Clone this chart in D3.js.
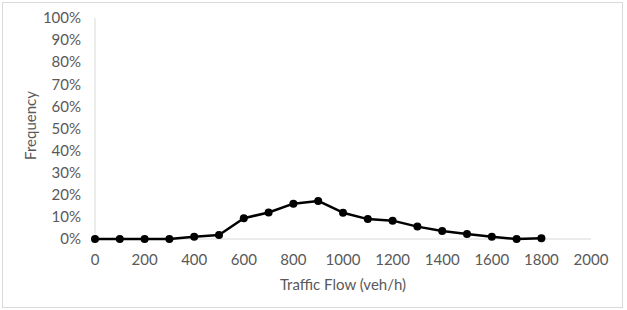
<!DOCTYPE html>
<html>
<head>
<meta charset="utf-8">
<script src="https://cdn.jsdelivr.net/npm/d3@7"></script>
<style>
  body { margin: 0; background: #fff; }
  text { font-family: Lato, "Open Sans", sans-serif; fill: #595959; }
</style>
</head>
<body>
<div class="container"></div>
<script>
const width = 627;
const height = 310;

const flow = [0, 100, 200, 300, 400, 500, 600, 700, 800, 900, 1000, 1100, 1200, 1300, 1400, 1500, 1600, 1700, 1800];
const freq = [0, 0, 0, 0, 1.0, 1.8, 9.4, 12.0, 16.0, 17.2, 11.9, 9.0, 8.3, 5.6, 3.6, 2.3, 1.0, 0, 0.3];
const xTicks = [0, 200, 400, 600, 800, 1000, 1200, 1400, 1600, 1800, 2000];
const yTicks = [0, 10, 20, 30, 40, 50, 60, 70, 80, 90, 100];

const margin = {left: 95, right: 36, top: 18, bottom: 71};
const fontSize = "15px";

const svg = d3.select(".container").append("svg").attr("width", width).attr("height", height);

svg.append("rect")
    .attr("x", 2.5).attr("y", 2.5)
    .attr("width", 620).attr("height", 305)
    .attr("fill", "none").attr("stroke", "#d9d9d9");

const x = d3.scaleLinear().domain([0, 2000]).range([margin.left, width - margin.right]);
const y = d3.scaleLinear().domain([0, 100]).range([height - margin.bottom, margin.top]);

// axis lines
svg.append("line")
    .attr("x1", x(0)).attr("x2", x(2000))
    .attr("y1", y(0)).attr("y2", y(0))
    .attr("stroke", "#d9d9d9");
svg.append("line")
    .attr("x1", x(0)).attr("x2", x(0))
    .attr("y1", y(0)).attr("y2", y(100))
    .attr("stroke", "#d9d9d9");

svg.append("g").selectAll("text")
    .data(yTicks)
    .enter().append("text")
      .attr("x", x(0) - 14)
      .attr("y", d => y(d))
      .attr("dy", "0.35em")
      .attr("text-anchor", "end")
      .style("font-size", fontSize)
      .text(d => d + "%");

svg.append("g").selectAll("text")
    .data(xTicks)
    .enter().append("text")
      .attr("x", d => x(d))
      .attr("y", y(0) + 26)
      .attr("text-anchor", "middle")
      .style("font-size", fontSize)
      .text(d => d);

svg.append("text")
    .attr("transform", `translate(36,${(y(0) + y(100)) / 2 - 3}) rotate(-90)`)
    .attr("text-anchor", "middle")
    .style("font-size", fontSize)
    .text("Frequency");

svg.append("text")
    .attr("x", 343)
    .attr("y", 290)
    .attr("text-anchor", "middle")
    .style("font-size", fontSize)
    .text("Traffic Flow (veh/h)");

const pts = flow.map((f, i) => [f, freq[i]]);

svg.append("path")
    .datum(pts)
    .attr("fill", "none")
    .attr("stroke", "#000")
    .attr("stroke-width", 2.5)
    .attr("stroke-linejoin", "round")
    .attr("d", d3.line().x(d => x(d[0])).y(d => y(d[1])));

svg.append("g").selectAll("circle")
    .data(pts)
    .enter().append("circle")
      .attr("cx", d => x(d[0]))
      .attr("cy", d => y(d[1]))
      .attr("r", 4)
      .attr("fill", "#000");
</script>
</body>
</html>
